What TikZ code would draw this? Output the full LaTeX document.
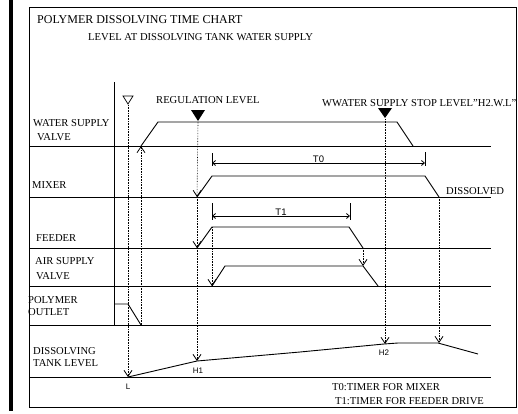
\documentclass[tikz,border=0pt]{standalone}
\usepackage{fontspec}
\setmainfont{Liberation Serif}
\setsansfont{Liberation Sans}
\usetikzlibrary{arrows.meta}

\begin{document}
\begin{tikzpicture}[
        x=1pt, y=-1pt,
        lbl/.style={anchor=base west, inner sep=0pt, font=\fontsize{10.6}{12}\selectfont},
        tag/.style={anchor=base, inner sep=0pt, font=\sffamily\fontsize{8}{9}\selectfont},
        tname/.style={anchor=base, inner sep=0pt, font=\sffamily\fontsize{9.5}{11}\selectfont},
        rule/.style={line width=0.8pt},
        wave/.style={line width=0.9pt, line join=round},
        guide/.style={densely dotted, line width=0.6pt},
        hit/.style={guide, -{Straight Barb[length=6pt,width=8pt,line width=0.8pt]}},
        dim/.style={line width=0.8pt, {Straight Barb[length=3pt,width=5pt]}-{Straight Barb[length=3pt,width=5pt]}},
        tickline/.style={line width=0.7pt}
    ]
        \useasboundingbox (0,0) rectangle (518,413);

        % --- frame ---
        \fill (9,0) rectangle (13,411);
        \draw[rule] (29,7) rectangle (516,407);

        \node[lbl, font=\fontsize{12}{14}\selectfont] (title) at (37,23) {POLYMER DISSOLVING TIME CHART};
        \node[lbl] (subtitle) at (88,40) {LEVEL AT DISSOLVING TANK WATER SUPPLY};

        % --- rows ---
        \foreach \y in {146,197,248,286,325,377}
            \draw[rule] (29,\y) -- (491,\y);
        \draw[rule] (114,82) -- (114,325);

        \node[lbl] (lwater)  at (33,126) {WATER SUPPLY};
        \node[lbl] (lwater2) at (37,140) {VALVE};
        \node[lbl] (lmixer)  at (32,188) {MIXER};
        \node[lbl] (lfeeder) at (36,241) {FEEDER};
        \node[lbl] (lair)    at (35,264) {AIR SUPPLY};
        \node[lbl] (lair2)   at (36,279) {VALVE};
        \node[lbl] (lpoly)   at (28,303) {POLYMER};
        \node[lbl] (lpoly2)  at (28,315) {OUTLET};
        \node[lbl] (ltank)   at (33,354) {DISSOLVING};
        \node[lbl] (ltank2)  at (33,366) {TANK LEVEL};

        % --- level marks ---
        \draw[tickline] (123,96) -- (133,96) -- (128,104) -- cycle;
        \fill (191,110) -- (205,110) -- (198,121) -- cycle;
        \fill (378,108) -- (392,108) -- (385,118) -- cycle;
        \node[lbl] (lreg)  at (156,103) {REGULATION LEVEL};
        \node[lbl] (lstop) at (322,106) {WWATER SUPPLY STOP LEVEL"H2.W.L"};

        % --- signals ---
        \draw[wave] (141,146) -- (158,122) -- (397,122) -- (413,146);
        \draw[wave] (197,197) -- (212,176) -- (425,176) -- (439,197);
        \draw[wave] (197,248) -- (212,227) -- (349,227) -- (363,248);
        \draw[wave] (212,286) -- (225,266) -- (363,266) -- (378,286);
        \draw[wave] (114,304) -- (128,304) -- (141,325);
        \draw[wave] (128,377) -- (197,361) -- (300,352) -- (384,344) -- (398,343) -- (438,343) -- (478,354);
        \node[lbl] (ldiss) at (446,194) {DISSOLVED};

        % --- timers ---
        \draw[tickline] (212,153) -- (212,166);
        \draw[tickline] (425,152) -- (425,166);
        \draw[dim] (212,163) -- (425,163) node[midway, above=1pt, tname] (t0) {T0};
        \draw[tickline] (212,203) -- (212,220);
        \draw[tickline] (350,203) -- (350,220);
        \draw[dim] (212,216) -- (350,216) node[midway, above=1pt, tname] (t1) {T1};

        % --- event guides ---
        \draw[hit] (128,105) -- (128,377);
        \draw[hit] (141,325) -- (141,146);
        \draw[hit] (198,122) -- (197,197);
        \draw[hit] (197,197) -- (197,248);
        \draw[hit] (197,248) -- (197,361);
        \draw[hit] (212,227) -- (212,286);
        \draw[hit] (363,248) -- (363,266);
        \draw[hit] (385,119) -- (385,344);
        \draw[hit] (439,197) -- (439,343);

        \node[tag] (lL)  at (128,389) {L};
        \node[tag] (lH1) at (198,373) {H1};
        \node[tag] (lH2) at (384,355) {H2};

        % --- legend ---
        \node[lbl] (leg0) at (332,390) {T0:TIMER FOR MIXER};
        \node[lbl] (leg1) at (335,404) {T1:TIMER FOR FEEDER DRIVE};
    \end{tikzpicture}
\end{document}
